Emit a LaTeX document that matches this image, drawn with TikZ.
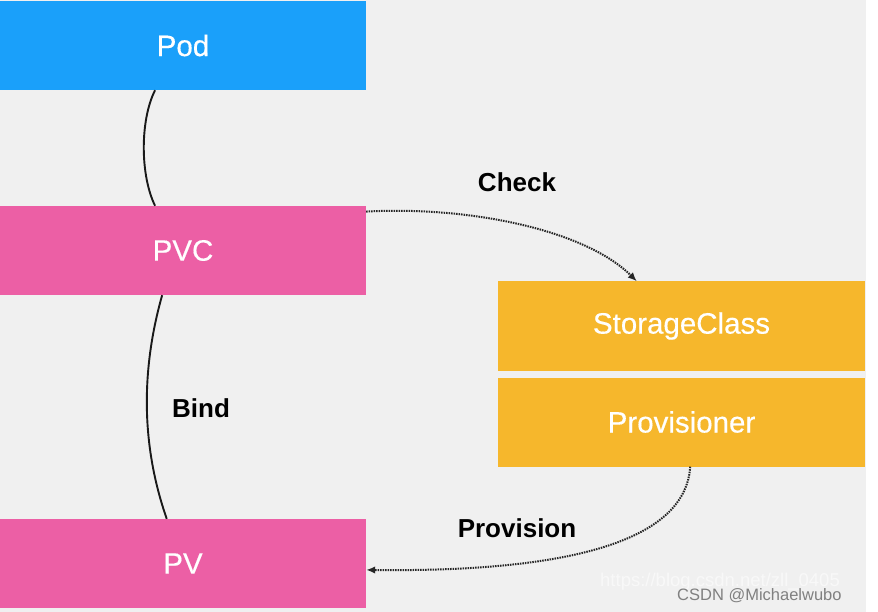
\documentclass[tikz,border=0pt]{standalone}
\usepackage{fontspec}
\setmainfont{Liberation Sans}
\newfontfamily\boxfont[FakeBold=0.4]{Liberation Sans}
\usetikzlibrary{arrows.meta}
\definecolor{bg}{HTML}{F0F0F0}
\definecolor{podblue}{HTML}{1AA0FA}
\definecolor{kpink}{HTML}{EC5FA5}
\definecolor{kyellow}{HTML}{F6B72C}
\tikzset{
  box/.style={minimum width=366pt, minimum height=89pt, inner sep=0pt, text=white,
    font=\boxfont\fontsize{29.5}{32}\selectfont},
  sbox/.style={box, minimum width=367pt, fill=kyellow},
  lbl/.style={font=\bfseries\fontsize{26}{30}\selectfont, text=black, inner sep=0pt},
  link/.style={line width=1.9pt, black!90},
  flow/.style={line width=2pt, black!85, dash pattern=on 1.5pt off 1pt,
    -{Latex[length=9pt,width=7.5pt]}},
}
\begin{document}
\begin{tikzpicture}[x=1pt,y=-1pt]
\useasboundingbox (0,0) rectangle (878,612);
\fill[white] (0,0) rectangle (878,612);
\fill[bg] (0,0) rectangle (866,612);
\node[box, fill=podblue] (pod) at (183,45.5) {Pod};
\node[box, fill=kpink] (pvc) at (183,250.5) {PVC};
\node[box, fill=kpink] (pv) at (183,563.5) {PV};
\node[sbox] (sc) at (681.5,326) {StorageClass};
\node[sbox] (prov) at (681.5,422) {Provisioner};
\draw[link] (pod.-122) .. controls (140,120) and (140,175) .. (pvc.122);
\draw[link] (pvc.-115) .. controls (141,370) and (141,445) .. (pv.110);
\draw[flow] (pvc.12) .. controls (470,206) and (585,230) .. (sc.135);
\draw[flow] (prov.-79) .. controls (685,550) and (540,572) .. (pv.-2);
\node[lbl] (check) at (517,182) {Check};
\node[lbl] (bind) at (201,408) {Bind};
\node[lbl] (provision) at (517,528) {Provision};
\node[anchor=west, inner sep=0pt, text=white, opacity=0.55, font=\fontsize{18.5}{22}\selectfont] (wm) at (600,582) {https://blog.csdn.net/zll\_0405};
\node[anchor=west, inner sep=0pt, text=black!50, font=\fontsize{16.5}{20}\selectfont] (csdn) at (677,596) {CSDN @Michaelwubo};
\end{tikzpicture}
\end{document}
